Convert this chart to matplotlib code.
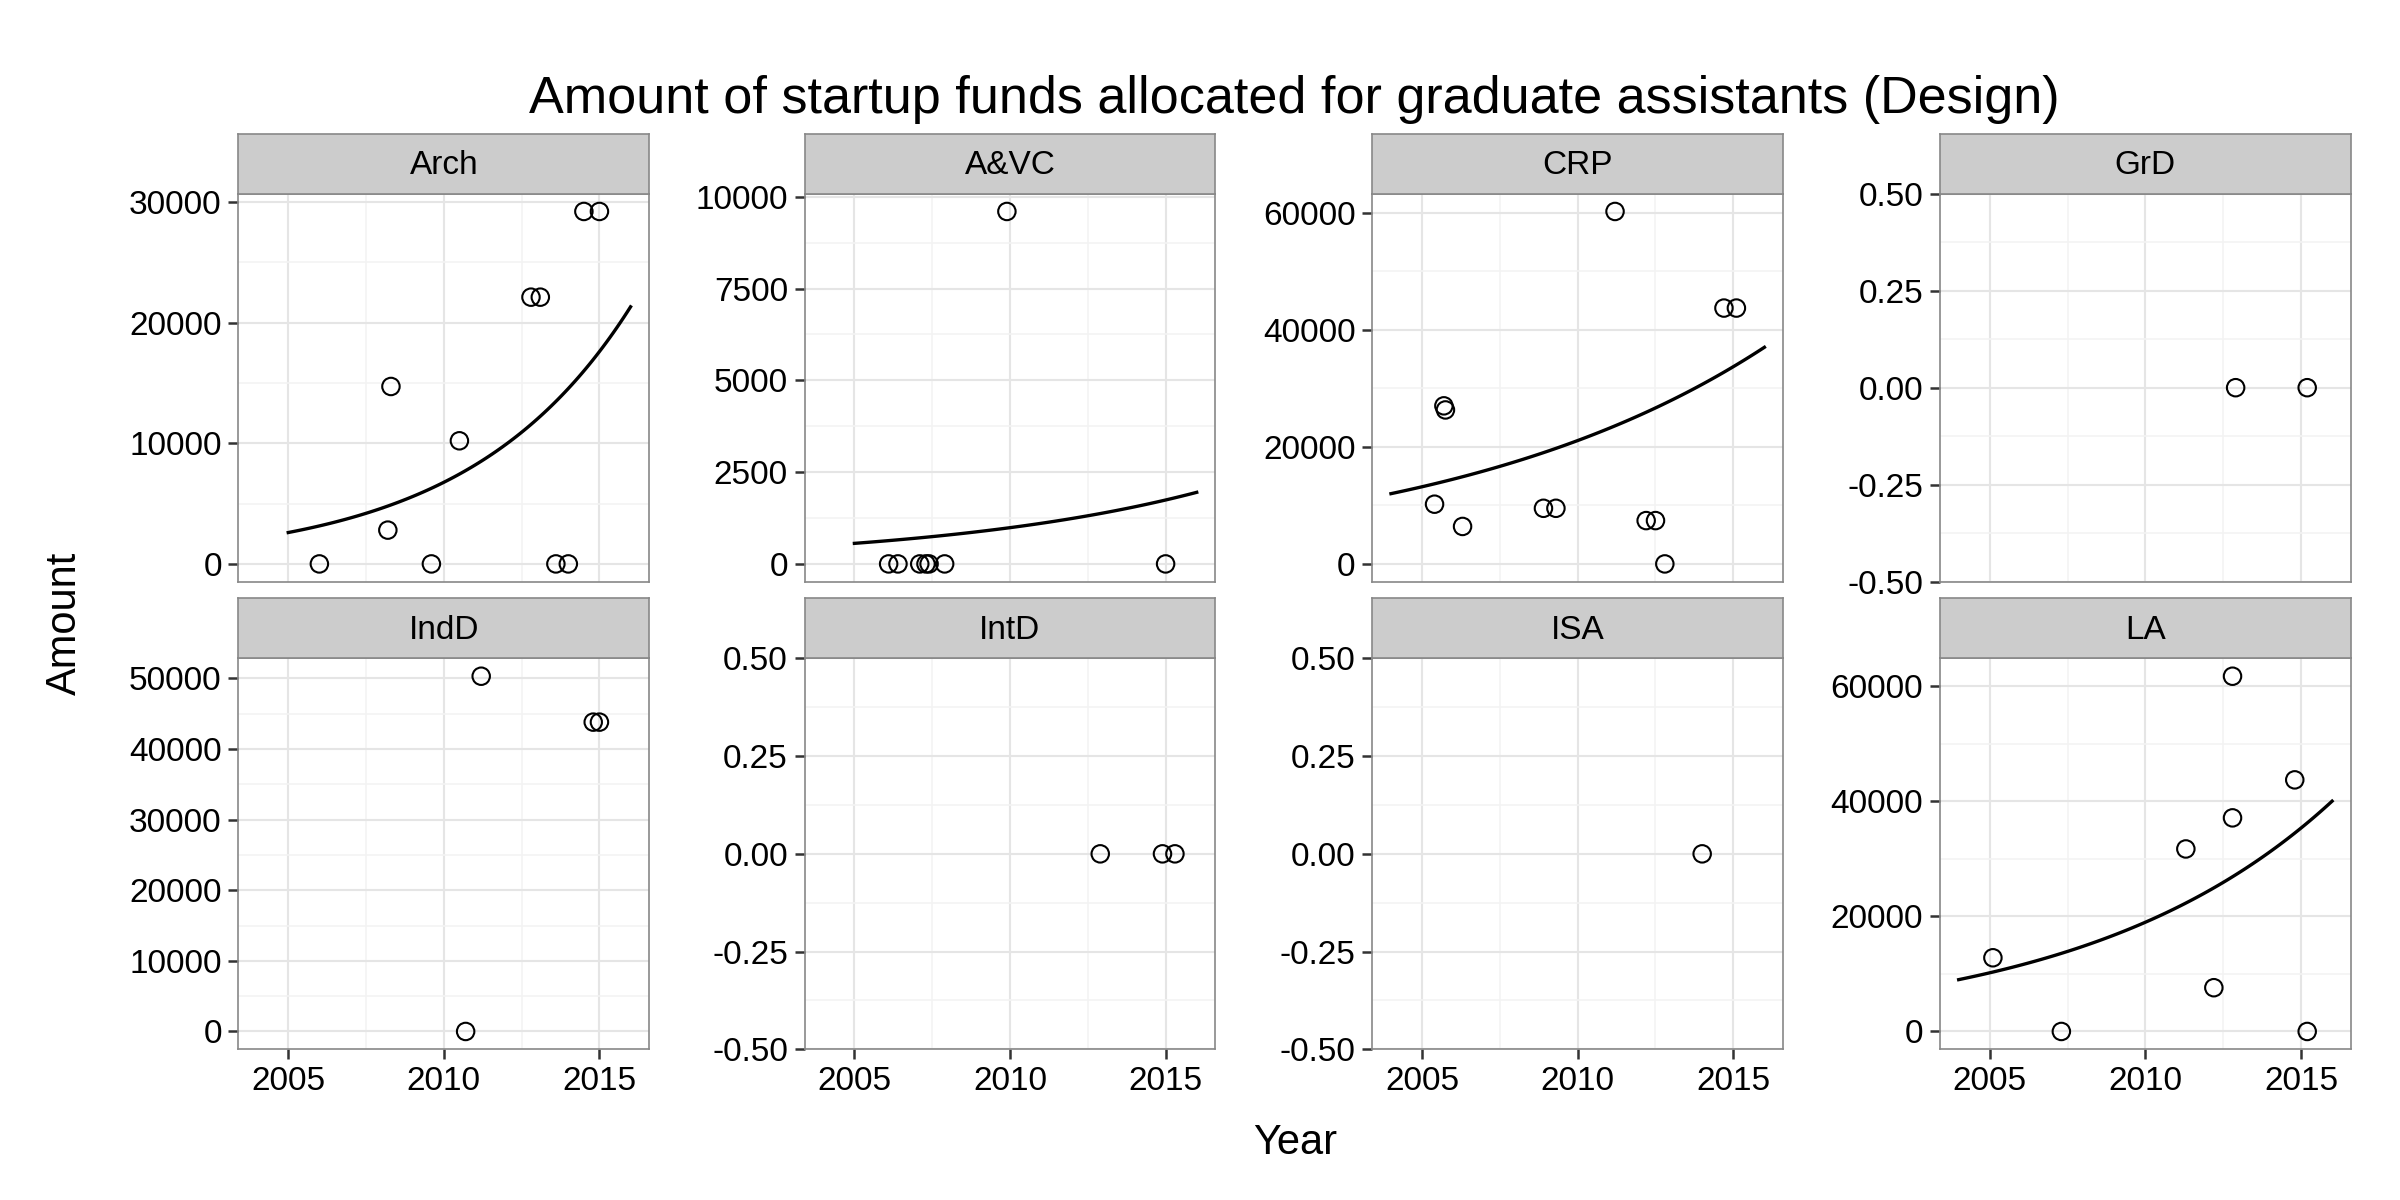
import numpy as np
import matplotlib
matplotlib.use('Agg')
import matplotlib.pyplot as plt
from matplotlib.ticker import FormatStrFormatter, FixedLocator

plt.rcParams['font.family'] = ['Liberation Sans', 'DejaVu Sans']

depts = ['Arch', 'A&VC', 'CRP', 'GrD', 'IndD', 'IntD', 'ISA', 'LA']

arch_x = [2006.0, 2008.3, 2008.2, 2009.6, 2010.5, 2012.8, 2013.1, 2013.6, 2014.0, 2014.5, 2015.0]
arch_y = [0, 14700, 2800, 0, 10200, 22100, 22100, 0, 0, 29200, 29200]
avc_x = [2006.1, 2006.4, 2007.1, 2007.3, 2007.4, 2007.9, 2009.9, 2015.0]
avc_y = [0, 0, 0, 0, 0, 0, 9600, 0]
crp_x = [2005.4, 2005.7, 2005.75, 2006.3, 2008.9, 2009.3, 2011.2, 2012.2, 2012.5, 2012.8, 2014.7, 2015.1]
crp_y = [10200, 27000, 26300, 6400, 9500, 9500, 60200, 7400, 7400, 0, 43700, 43700]
grd_x = [2012.9, 2015.2]
grd_y = [0, 0]
indd_x = [2010.7, 2011.2, 2014.8, 2015.0]
indd_y = [0, 50300, 43800, 43800]
intd_x = [2012.9, 2014.9, 2015.3]
intd_y = [0, 0, 0]
isa_x = [2014.0]
isa_y = [0]
la_x = [2005.1, 2007.3, 2011.3, 2012.2, 2012.8, 2012.8, 2014.8, 2015.2]
la_y = [12800, 0, 31700, 7600, 37100, 61700, 43700, 0]

points = [(arch_x, arch_y), (avc_x, avc_y), (crp_x, crp_y), (grd_x, grd_y),
          (indd_x, indd_y), (intd_x, intd_y), (isa_x, isa_y), (la_x, la_y)]

# fitted exponential trend: (x0, y0, x1, y1) endpoints
trends = {'Arch': (2005, 2600, 2016, 21300),
          'A&VC': (2005, 560, 2016, 1950),
          'CRP': (2004, 12000, 2016, 37000),
          'LA': (2004, 9000, 2016, 40000)}

yticks = {'Arch': [0, 10000, 20000, 30000],
          'A&VC': [0, 2500, 5000, 7500, 10000],
          'CRP': [0, 20000, 40000, 60000],
          'IndD': [0, 10000, 20000, 30000, 40000, 50000],
          'LA': [0, 20000, 40000, 60000]}
small_ticks = [-0.5, -0.25, 0, 0.25, 0.5]

W, H = 1560.0, 780.0
lefts = [155, 523, 892, 1261]
pw = 267
rows = [(87, 126, 378), (389, 428, 682)]

fig = plt.figure(figsize=(16, 8), dpi=150)

for i, d in enumerate(depts):
    r, c = divmod(i, 4)
    st, pt, pb = rows[r]
    l = lefts[c]
    ax = fig.add_axes([l / W, 1 - pb / H, pw / W, (pb - pt) / H])
    sax = fig.add_axes([l / W, 1 - pt / H, pw / W, (pt - st) / H])
    sax.set_facecolor('#CCCCCC')
    sax.set_xticks([]); sax.set_yticks([])
    for s in sax.spines.values():
        s.set_color('#888888')
    sax.text(0.5, 0.47, d, ha='center', va='center', fontsize=16, transform=sax.transAxes)

    xs, ys = points[i]
    ax.scatter(xs, ys, s=70, facecolors='none', edgecolors='black', linewidths=1.0, zorder=3)
    ymin, ymax = min(ys), max(ys)
    if d in trends:
        x0, y0, x1, y1 = trends[d]
        b = np.log(y1 / y0) / (x1 - x0)
        xx = np.linspace(x0, x1, 100)
        yy = y0 * np.exp(b * (xx - x0))
        ax.plot(xx, yy, color='black', lw=1.6, zorder=2)
        ymin, ymax = min(ymin, yy.min()), max(ymax, yy.max())
    if ymax > ymin:
        rg = ymax - ymin
        ax.set_ylim(ymin - 0.05 * rg, ymax + 0.05 * rg)
        ticks = yticks[d]
        ax.yaxis.set_major_formatter(FormatStrFormatter('%d'))
    else:
        ax.set_ylim(-0.5, 0.5)
        ticks = small_ticks
        ax.yaxis.set_major_formatter(FormatStrFormatter('%.2f'))
    ax.yaxis.set_major_locator(FixedLocator(ticks))
    minors = [(a + b2) / 2 for a, b2 in zip(ticks[:-1], ticks[1:])]
    ax.set_yticks(minors, minor=True)
    ax.set_xlim(2003.4, 2016.6)
    ax.set_xticks([2005, 2010, 2015])
    ax.set_xticks([2007.5, 2012.5], minor=True)
    ax.grid(True, which='major', color='#E5E5E5', lw=1.0)
    ax.grid(True, which='minor', color='#F3F3F3', lw=0.8)
    ax.set_axisbelow(True)
    for s in ax.spines.values():
        s.set_color('#888888')
    ax.tick_params(which='minor', length=0)
    ax.tick_params(which='major', length=5, width=1.2, color='#333333', labelsize=16, pad=3)
    if r == 0:
        ax.tick_params(axis='x', labelbottom=False, length=0)

fig.text(841 / W, 1 - 65 / H, 'Amount of startup funds allocated for graduate assistants (Design)',
         ha='center', va='center', fontsize=25)
fig.text(842 / W, 1 - 743 / H, 'Year', ha='center', va='center', fontsize=20)
fig.text(42 / W, 1 - 405 / H, 'Amount', ha='center', va='center', rotation=90, fontsize=20)

fig.savefig('out.png', dpi=150)
